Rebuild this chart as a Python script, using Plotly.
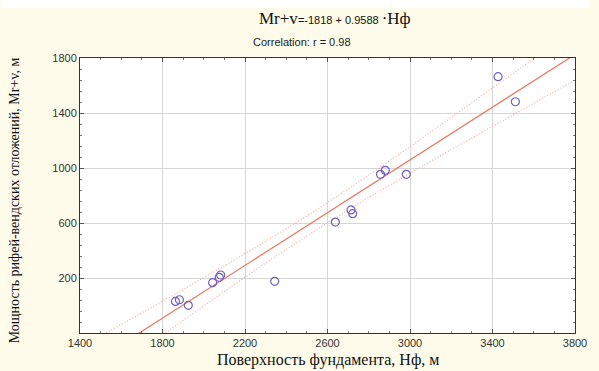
import numpy as np
import plotly.graph_objects as go

# Data
surface_hf = [1863, 1882, 1925, 2043, 2075, 2082, 2344, 2638, 2714, 2722, 2857, 2880, 2982, 3427, 3511]
thickness_mrv = [30, 42, 1, 166, 205, 222, 176, 607, 695, 668, 954, 983, 954, 1664, 1482]
intercept = -1818.0
slope = 0.9588
x_ticks = [1400, 1800, 2200, 2600, 3000, 3400, 3800]
y_ticks = [200, 600, 1000, 1400, 1800]

x = np.array(surface_hf, float)
y = np.array(thickness_mrv, float)
n = len(x)
xs = np.linspace(1400, 3800, 200)
yfit = intercept + slope * xs
res = y - (intercept + slope * x)
s = np.sqrt(np.sum(res ** 2) / (n - 2))
sxx = np.sum((x - x.mean()) ** 2)
t = 2.160
band = t * s * np.sqrt(1 / n + (xs - x.mean()) ** 2 / sxx) * 1.15

red = "#e8735f"
dotc = "#f2a596"
fig = go.Figure()
fig.add_trace(go.Scatter(x=xs, y=yfit + band, mode="lines",
                         line=dict(color=dotc, width=1.1, dash="1px,2px"), hoverinfo="skip"))
fig.add_trace(go.Scatter(x=xs, y=yfit - band, mode="lines",
                         line=dict(color=dotc, width=1.1, dash="1px,2px"), hoverinfo="skip"))
fig.add_trace(go.Scatter(x=xs, y=yfit, mode="lines",
                         line=dict(color=red, width=1.2), hoverinfo="skip"))
fig.add_trace(go.Scatter(x=surface_hf, y=thickness_mrv, mode="markers",
                         marker=dict(symbol="circle-open", size=8, color="#6f5fc0",
                                     line=dict(width=1.2, color="#6f5fc0"))))

axis_common = dict(showline=True, linecolor="#333", linewidth=1, mirror="ticks",
                   ticks="inside", ticklen=4, tickcolor="#555",
                   gridcolor="#d6d6d6", gridwidth=1, zeroline=False,
                   tickfont=dict(family="Liberation Sans, Arial", size=11, color="#333"))
fig.update_xaxes(range=[1400, 3800], tickvals=x_ticks,
                 minor=dict(dtick=100, ticks="inside", ticklen=2, tickcolor="#777", showgrid=False),
                 **axis_common)
fig.update_yaxes(range=[-200, 1800], tickvals=y_ticks,
                 minor=dict(dtick=80, tick0=-200, ticks="inside", ticklen=2, tickcolor="#777", showgrid=False),
                 **axis_common)

ph = 371 - 58 - 38
pw = 599 - 80 - 14
serif = "Liberation Serif, Times New Roman"
sans = "Liberation Sans, Arial"
title = (f'<span style="font-family:{serif};font-size:17px">Mr+v</span>'
         f'<span style="font-family:{sans};font-size:11px">={intercept:.0f} + {slope} </span>'
         f'<span style="font-family:{serif};font-size:17px">·Hф</span>')
fig.update_layout(
    width=599, height=371,
    margin=dict(l=80, r=14, t=58, b=38),
    paper_bgcolor="#fefbea", plot_bgcolor="white",
    showlegend=False,
    shapes=[dict(type="rect", xref="paper", yref="paper",
                 x0=-80 / pw, x1=1 + 14 / pw, y0=1 + 50 / ph, y1=1 + 58 / ph + 0.01,
                 fillcolor="white", line=dict(width=0), layer="below")],
    annotations=[
        dict(text=title, x=(340 - 80) / pw, y=1 + (58 - 19) / ph, xref="paper", yref="paper",
             showarrow=False, xanchor="center", yanchor="middle", font=dict(color="#111")),
        dict(text="Correlation: r = 0.98", x=(306 - 80) / pw, y=1 + (58 - 42) / ph,
             xref="paper", yref="paper", showarrow=False, xanchor="center", yanchor="middle",
             font=dict(family=sans, size=11, color="#222")),
        dict(text="Поверхность фундамента, Нф, м", x=(333 - 80) / pw, y=-(360 - 333) / ph,
             xref="paper", yref="paper", showarrow=False, xanchor="center", yanchor="middle",
             font=dict(family=serif, size=16, color="#111")),
        dict(text="Мощность рифей-вендских отложений, Мr+v, м", x=-(80 - 13) / pw, y=(333 - 200) / ph,
             xref="paper", yref="paper", showarrow=False, xanchor="center", yanchor="middle",
             textangle=-90, font=dict(family=serif, size=14, color="#111")),
    ],
)
fig.write_html("out.html")
